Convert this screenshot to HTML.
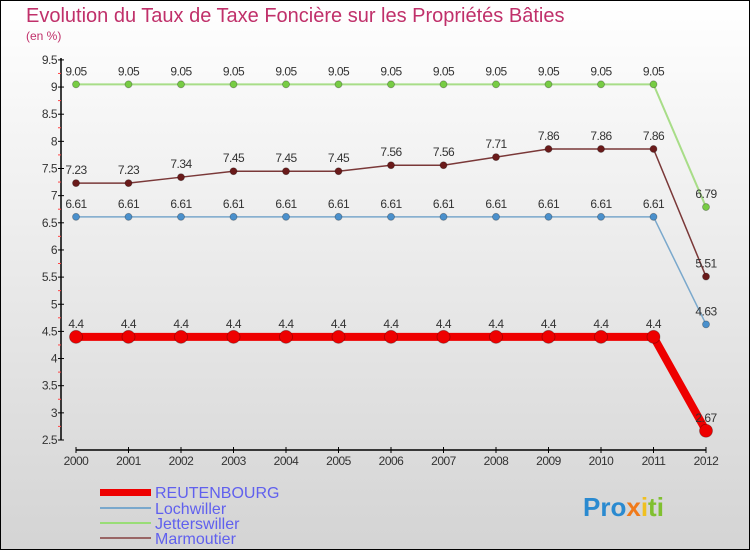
<!DOCTYPE html>
<html><head><meta charset="utf-8"><style>
body{margin:0}
#c{width:750px;height:550px;position:relative;font-family:"Liberation Sans","DejaVu Sans",sans-serif}
</style></head><body>
<div id="c">
<svg id="s" width="750" height="550" xmlns="http://www.w3.org/2000/svg">
<defs><linearGradient id="bg" x1="0" y1="0" x2="0" y2="1"><stop offset="0" stop-color="#ffffff"/><stop offset="1" stop-color="#d4d4d4"/></linearGradient></defs>
<rect x="0.5" y="0.5" width="749" height="549" fill="url(#bg)" stroke="#000"/>
<text x="26" y="22" font-size="20" fill="#c0306a">Evolution du Taux de Taxe Foncière sur les Propriétés Bâties</text>
<text x="26" y="40" font-size="12" fill="#c0306a">(en %)</text>
<g id="axes"></g><g id="series"></g>
<g>
<rect x="100" y="489" width="51" height="7" fill="#ee0000"/>
<text x="155" y="498" font-size="16" fill="#6060ee">REUTENBOURG</text>
<line x1="100" y1="508" x2="151" y2="508" stroke="#7aa8cc" stroke-width="2"/>
<text x="155" y="514" font-size="16" fill="#6060ee">Lochwiller</text>
<line x1="100" y1="523" x2="151" y2="523" stroke="#99dd77" stroke-width="2"/>
<text x="155" y="529" font-size="16" fill="#6060ee">Jetterswiller</text>
<line x1="100" y1="538" x2="151" y2="538" stroke="#996666" stroke-width="2"/>
<text x="155" y="544" font-size="16" fill="#6060ee">Marmoutier</text>
</g>
<text x="583" y="516" font-size="26" font-weight="bold" fill="#2a8ad0">Pro<tspan fill="#f07a1a">x</tspan><tspan fill="#f0c020">i</tspan><tspan fill="#80c030">ti</tspan></text>
</svg></div>
<script>
const years=[2000,2001,2002,2003,2004,2005,2006,2007,2008,2009,2010,2011,2012];
const yTicks=[2.5,3,3.5,4,4.5,5,5.5,6,6.5,7,7.5,8,8.5,9,9.5];
const reutenbourg=[4.4,4.4,4.4,4.4,4.4,4.4,4.4,4.4,4.4,4.4,4.4,4.4,2.67];
const lochwiller=[6.61,6.61,6.61,6.61,6.61,6.61,6.61,6.61,6.61,6.61,6.61,6.61,4.63];
const jetterswiller=[9.05,9.05,9.05,9.05,9.05,9.05,9.05,9.05,9.05,9.05,9.05,9.05,6.79];
const marmoutier=[7.23,7.23,7.34,7.45,7.45,7.45,7.56,7.56,7.71,7.86,7.86,7.86,5.51];
const NS='http://www.w3.org/2000/svg';
const xS=i=>76+i*52.5, yS=v=>440-(v-2.5)*54.3;
function mk(t,a,p){const e=document.createElementNS(NS,t);for(const k in a)e.setAttribute(k,a[k]);p.appendChild(e);return e;}
const ax=document.getElementById('axes');
let l=mk('line',{x1:61,y1:58,x2:61,y2:440,stroke:'#000','stroke-width':1.5},ax);


l=mk('line',{x1:76,y1:450,x2:706,y2:450,stroke:'#000','stroke-width':1.5},ax);


yTicks.forEach(v=>{const y=yS(v);
 mk('line',{x1:58,y1:y,x2:64,y2:y,stroke:'#000'},ax);
 if(v<9.5) mk('line',{x1:58,y1:y-13.6,x2:61,y2:y-13.6,stroke:'#f44'},ax);
 const t=mk('text',{x:57,y:y+4,'font-size':12,'text-anchor':'end',fill:'#333','letter-spacing':'-0.5'},ax);t.textContent=v;
 
 });
years.forEach((yr,i)=>{const x=xS(i);
 mk('line',{x1:x,y1:447,x2:x,y2:453,stroke:'#000'},ax);
 const t=mk('text',{x:x,y:465,'font-size':12,'text-anchor':'middle',fill:'#333','letter-spacing':'-0.5'},ax);t.textContent=yr;
 
 });
const sg=document.getElementById('series');
function draw(name,vals,color,dot,w,r){
 const g=mk('g',{},sg);
 
 
 mk('polyline',{points:vals.map((v,i)=>xS(i)+','+yS(v)).join(' '),fill:'none',stroke:color,'stroke-width':w},g);
 vals.forEach((v,i)=>{const c=mk('circle',{cx:xS(i),cy:yS(v),r:r,fill:dot,stroke:'rgba(0,0,0,0.3)','stroke-width':0.8},g);
  
  
  const t=mk('text',{x:xS(i),y:yS(v)-9,'font-size':12,'text-anchor':'middle',fill:'#333','letter-spacing':'-0.5'},g);t.textContent=v;
  
  });
}
draw('lochwiller',lochwiller,'#7aa8cc','#4a90cc',1.5,3.5);
draw('jetterswiller',jetterswiller,'#a8dd88','#77cc44',2,3.5);
draw('marmoutier',marmoutier,'#7a3838','#6a1a1a',1.5,3.5);
draw('reutenbourg',reutenbourg,'#ee0000','#ee0000',8,6.5);
</script></body></html>
